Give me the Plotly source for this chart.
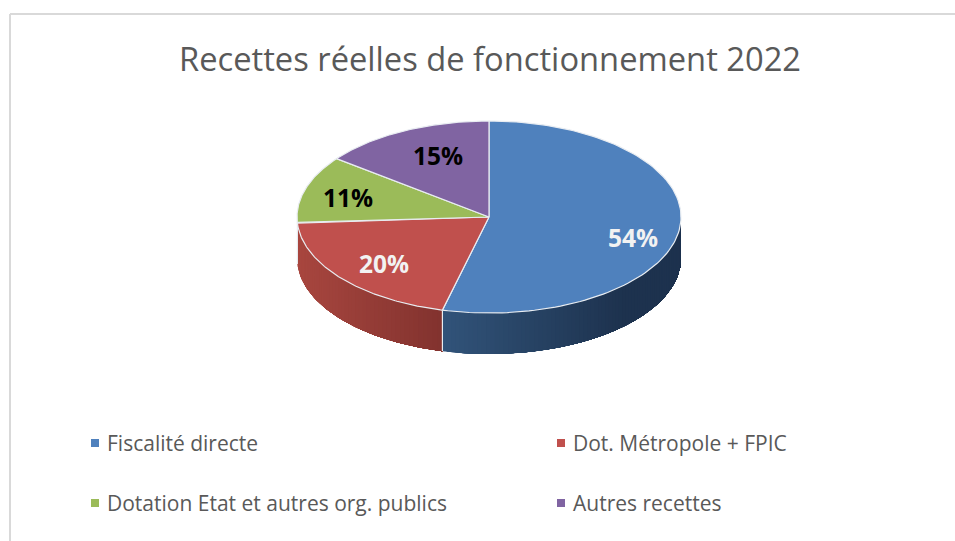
import numpy as np
import plotly.graph_objects as go

categories = ["Fiscalité directe", "Dot. Métropole + FPIC", "Dotation Etat et autres org. publics", "Autres recettes"]
shares = [53.9, 20.1, 11.4, 14.6]
title_text = "Recettes réelles de fonctionnement 2022"

colors = ["#4f81bd", "#c0504d", "#9bbb59", "#8064a2"]
side_left = ["#315379", "#a8463f", "#84a24a", "#6d5590"]
side_right = ["#1d324e", "#81322e", "#84a24a", "#6d5590"]
label_xy = [(633, 241), (384, 267), (348, 201), (438, 159)]
label_colors = ["#f2f2f2", "#f2f2f2", "#000000", "#000000"]
legend_xy = [(95, 443), (561, 443), (95, 503), (561, 503)]

CX, CY, RX, RY, DEPTH = 489, 217, 192, 96, 41
EDGE = "#e9edf2"
FONT = "Open Sans, sans-serif"


def ex(t):
    return CX + RX * np.sin(t)


def ey(t):
    return CY - RY * np.cos(t)


def mix(a, b, f):
    ca = [int(a[i:i + 2], 16) for i in (1, 3, 5)]
    cb = [int(b[i:i + 2], 16) for i in (1, 3, 5)]
    return "rgb(%d,%d,%d)" % tuple(round(p + (q - p) * f) for p, q in zip(ca, cb))


fig = go.Figure()
edges = 2 * np.pi * np.concatenate([[0], np.cumsum(shares)]) / sum(shares)
VIS_A, VIS_B = np.pi / 2, 3 * np.pi / 2

# Side wall: overlapping bands painted left to right give a seamless horizontal gradient
for i in range(len(shares)):
    a, b = max(edges[i], VIS_A), min(edges[i + 1], VIS_B)
    if b <= a:
        continue
    xa, xb = ex(b), ex(a)
    n = max(int((xb - xa) / 3), 2)
    ts = np.linspace(b, a, n + 1)
    for k in range(n):
        t = np.linspace(ts[k], a, 80)
        px = np.concatenate([ex(t), ex(t[::-1])])
        py = np.concatenate([ey(t), ey(t[::-1]) + DEPTH])
        f = np.clip((ex(ts[k]) - xa) / max(min(xb - xa, 180), 1), 0, 1)
        c = mix(side_left[i], side_right[i], f)
        fig.add_trace(go.Scatter(x=px, y=py, mode="lines", fill="toself", fillcolor=c,
                                 line=dict(width=0), hoverinfo="skip", showlegend=False))

# Divider on the side wall between slices
for e in edges[1:-1]:
    if VIS_A < e < VIS_B:
        fig.add_trace(go.Scatter(x=[ex(e), ex(e)], y=[ey(e), ey(e) + DEPTH], mode="lines",
                                 line=dict(color=EDGE, width=1.2), hoverinfo="skip", showlegend=False))

# Top face
for i in range(len(shares)):
    t = np.linspace(edges[i], edges[i + 1], 120)
    fig.add_trace(go.Scatter(x=np.concatenate([[CX], ex(t), [CX]]),
                             y=np.concatenate([[CY], ey(t), [CY]]),
                             mode="lines", fill="toself", fillcolor=colors[i],
                             line=dict(color=EDGE, width=1.2), name=categories[i],
                             hoverinfo="skip", showlegend=False))

# Percent labels
total = sum(shares)
for i, v in enumerate(shares):
    fig.add_trace(go.Scatter(x=[label_xy[i][0]], y=[label_xy[i][1]], mode="text",
                             text=[f"{round(100 * v / total)}%"], textposition="middle center",
                             textfont=dict(family=FONT, size=24.5, color=label_colors[i], weight="bold"),
                             hoverinfo="skip", showlegend=False))

# Legend
for i, name in enumerate(categories):
    fig.add_trace(go.Scatter(x=[legend_xy[i][0]], y=[legend_xy[i][1]], mode="markers",
                             marker=dict(symbol="square", size=8, color=colors[i]),
                             hoverinfo="skip", showlegend=False))
    fig.add_annotation(x=legend_xy[i][0] + 10, y=legend_xy[i][1], text=name, showarrow=False,
                       xanchor="left", yanchor="middle", xref="x", yref="y",
                       font=dict(family=FONT, size=21, color="#595959"))

fig.add_annotation(x=490, y=58, text=title_text, showarrow=False, xanchor="center", yanchor="middle",
                   xref="x", yref="y", font=dict(family=FONT, size=32.7, color="#595959"))

# Chart frame
fig.add_shape(type="line", x0=10, x1=955, y0=14, y1=14, xref="x", yref="y", line=dict(color="#d9d9d9", width=2))
fig.add_shape(type="line", x0=10, x1=10, y0=14, y1=541, xref="x", yref="y", line=dict(color="#d9d9d9", width=2))

fig.update_layout(width=955, height=541, margin=dict(l=0, r=0, t=0, b=0),
                  paper_bgcolor="white", plot_bgcolor="white", showlegend=False,
                  xaxis=dict(range=[0, 955], visible=False, fixedrange=True),
                  yaxis=dict(range=[541, 0], visible=False, fixedrange=True))
fig.write_html("out.html", config={"displayModeBar": False},
               post_script="document.body.style.margin='0';document.body.style.overflow='hidden';")
